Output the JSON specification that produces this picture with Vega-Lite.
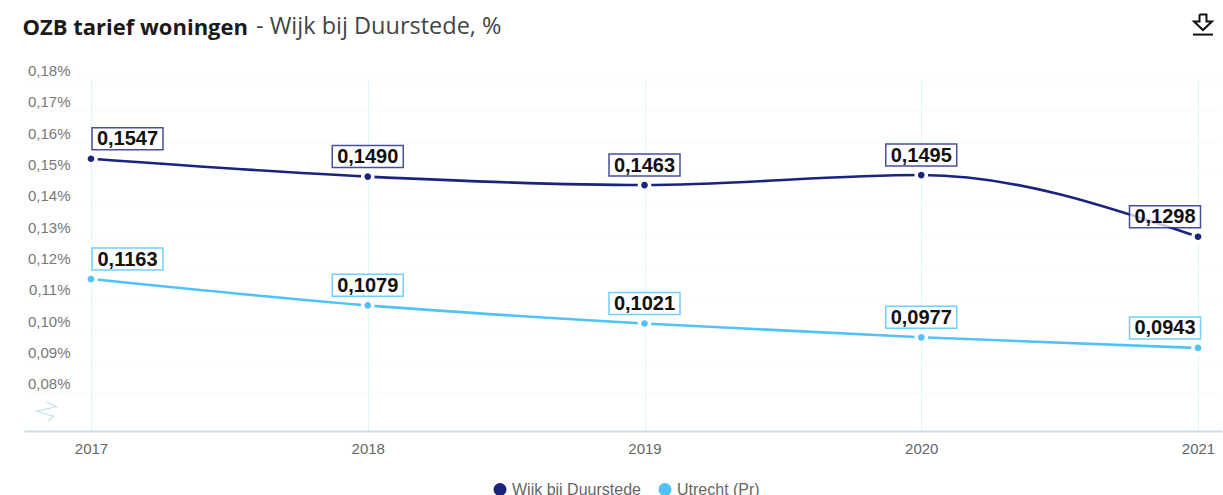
{"$schema":"https://vega.github.io/schema/vega-lite/v6.json","width":1198,"height":351.5,"autosize":"none","padding":{"left":24,"top":79.5,"right":1,"bottom":64},"background":"white",
"config":{"view":{"stroke":null},"font":"Liberation Sans"},
"data":{"values":[
{"year":2017,"series":"Wijk bij Duurstede","value":0.1547,"label":"0,1547"},
{"year":2018,"series":"Wijk bij Duurstede","value":0.149,"label":"0,1490"},
{"year":2019,"series":"Wijk bij Duurstede","value":0.1463,"label":"0,1463"},
{"year":2020,"series":"Wijk bij Duurstede","value":0.1495,"label":"0,1495"},
{"year":2021,"series":"Wijk bij Duurstede","value":0.1298,"label":"0,1298"},
{"year":2017,"series":"Utrecht (Pr)","value":0.1163,"label":"0,1163"},
{"year":2018,"series":"Utrecht (Pr)","value":0.1079,"label":"0,1079"},
{"year":2019,"series":"Utrecht (Pr)","value":0.1021,"label":"0,1021"},
{"year":2020,"series":"Utrecht (Pr)","value":0.0977,"label":"0,0977"},
{"year":2021,"series":"Utrecht (Pr)","value":0.0943,"label":"0,0943"}]},
"encoding":{
"x":{"field":"year","type":"quantitative","scale":{"domain":[2016.7579,2021.0867],"nice":false,"zero":false},
 "axis":{"values":[2017,2018,2019,2020,2021],"format":"d","title":"- Wijk bij Duurstede, %","titleFont":"Open Sans","titleFontSize":23.5,"titleFontWeight":400,"titleColor":"#444444","titleAngle":0,"titleAlign":"left","titleBaseline":"alphabetic","titleX":231.5,"titleY":-397.5,"labelFontSize":15,"labelColor":"#666666","labelPadding":10,"tickSize":0,"domainColor":"#c9e0ea","domainWidth":2,"grid":true,"gridColor":"#e3f4fc","gridWidth":1,"labelFlush":false}},
"y":{"field":"value","type":"quantitative","scale":{"domain":[0.06778,0.18],"nice":false,"zero":false},
 "axis":{"values":[0.08,0.09,0.10,0.11,0.12,0.13,0.14,0.15,0.16,0.17,0.18],"labelExpr":"replace(format(datum.value,'.2f'),'.',',')+'%'","title":"OZB tarief woningen","titleFont":"Open Sans","titleFontSize":22,"titleFontWeight":700,"titleColor":"#1a1a1a","titleAngle":0,"titleAlign":"left","titleBaseline":"alphabetic","titleX":-2,"titleY":-45.5,"domain":false,"ticks":false,"labelFontSize":15,"labelColor":"#777777","labelAlign":"right","labelPadding":-46,"labelOffset":-9,"grid":true,"gridColor":"#f6fbfd","gridWidth":1}},
"color":{"field":"series","type":"nominal","scale":{"domain":["Wijk bij Duurstede","Utrecht (Pr)"],"range":["#1a237e","#4fc3f7"]},
 "legend":{"title":null,"orient":"none","legendX":468,"legendY":402,"direction":"horizontal","symbolType":"circle","symbolSize":170,"symbolStrokeWidth":0,"labelFontSize":16,"labelColor":"#666666","labelOffset":4,"columnPadding":16,"symbolOpacity":1}}
},
"layer":[
{"mark":{"type":"line","interpolate":"monotone","strokeWidth":2.6}},
{"mark":{"type":"point","filled":true,"shape":"circle","size":104,"opacity":1,"stroke":"white","strokeWidth":3.5,"strokeOpacity":1}},
{"mark":{"type":"rect","width":71,"height":22,"fill":"white","fillOpacity":0.75,"strokeWidth":1.5,"strokeOpacity":0.8,"xOffset":{"expr":"datum.year==2017?36.5:datum.year==2021?-33:0"},"yOffset":-20},"encoding":{"color":{"value":null},"stroke":{"field":"series","type":"nominal","scale":{"domain":["Wijk bij Duurstede","Utrecht (Pr)"],"range":["#1a237e","#4fc3f7"]},"legend":null}}},
{"mark":{"type":"text","font":"Liberation Sans","fontWeight":700,"fontSize":20,"align":"center","baseline":"middle","xOffset":{"expr":"datum.year==2017?36.5:datum.year==2021?-33:0"},"yOffset":-19.5},"encoding":{"text":{"field":"label"},"color":{"value":"#111111"}}},
{"data":{"values":[{"i":0,"px":2016.8399,"py":0.0771},{"i":1,"px":2016.8761,"py":0.0755},{"i":2,"px":2016.8038,"py":0.0741},{"i":3,"px":2016.8638,"py":0.0725},{"i":4,"px":2016.8435,"py":0.0709}]},"mark":{"type":"line","strokeWidth":1.2,"clip":false},"encoding":{"x":{"field":"px","type":"quantitative"},"y":{"field":"py","type":"quantitative"},"order":{"field":"i"},"color":{"value":"#c5dfe9"}}},
{"data":{"values":[{"i":0,"p":"arrow","px":2021.0054,"py":0.20072},{"i":1,"p":"arrow","px":2021.0306,"py":0.20072},{"i":2,"p":"arrow","px":2021.0306,"py":0.19849},{"i":3,"p":"arrow","px":2021.0505,"py":0.19849},{"i":4,"p":"arrow","px":2021.018,"py":0.19578},{"i":5,"p":"arrow","px":2020.9855,"py":0.19849},{"i":6,"p":"arrow","px":2021.0054,"py":0.19849},{"i":7,"p":"arrow","px":2021.0054,"py":0.20072},{"i":8,"p":"bar","px":2020.9819,"py":0.19434},{"i":9,"p":"bar","px":2021.0541,"py":0.19434}]},"mark":{"type":"line","strokeWidth":2,"clip":false},"encoding":{"x":{"field":"px","type":"quantitative"},"y":{"field":"py","type":"quantitative"},"order":{"field":"i"},"detail":{"field":"p"},"color":{"value":"#111111"}}}
]}
